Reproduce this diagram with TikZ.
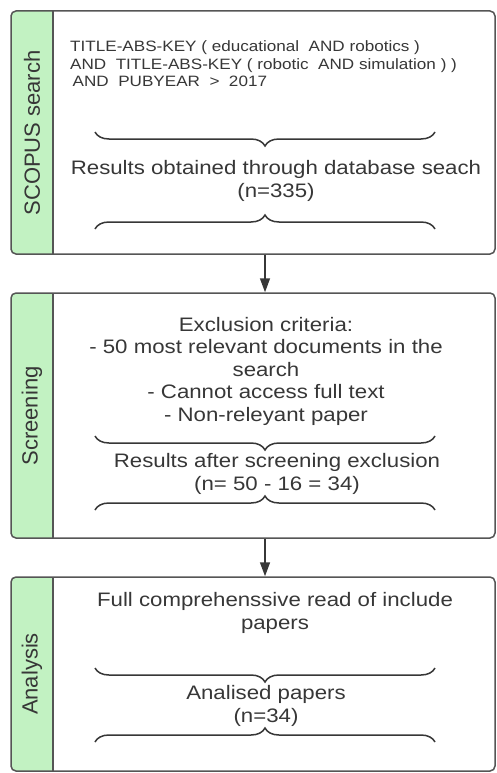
\documentclass[tikz,border=0pt]{standalone}
\usepackage{fontspec}
\setmainfont{Liberation Sans}
\newfontfamily\stretchfont[FakeStretch=1.14]{Liberation Sans}
\usetikzlibrary{arrows.meta,decorations.pathreplacing}
\definecolor{stripgreen}{RGB}{194,242,194}
\definecolor{bordergray}{RGB}{85,85,85}
\definecolor{txtgray}{RGB}{55,55,55}
\tikzset{
  panel/.style={draw=bordergray, line width=1.5pt, rounded corners=5pt, fill=white, inner sep=0pt,
    minimum width=484pt,
    path picture={
      \fill[stripgreen, sharp corners] (path picture bounding box.south west) rectangle ([xshift=42pt]path picture bounding box.north west);
      \draw[bordergray, line width=1.5pt] ([xshift=42pt]path picture bounding box.south west) -- ([xshift=42pt]path picture bounding box.north west);
    }},
  sidelabel/.style={rotate=90, font=\fontsize{22}{26}\selectfont, text=txtgray, inner sep=0pt},
  maintext/.style={align=center, font=\stretchfont\fontsize{19.5}{22.5}\selectfont, text=txtgray, inner sep=0pt},
  querytext/.style={align=left, font=\stretchfont\fontsize{15}{17.5}\selectfont, text=txtgray, inner sep=0pt},
  bracepath/.style={decorate, decoration={brace, amplitude=14pt}, draw=txtgray, line width=1.5pt},
  flow/.style={draw=txtgray, line width=1.5pt, -{Triangle[length=14pt,width=10pt]}},
}
\begin{document}
\begin{tikzpicture}[x=1pt, y=-1pt]
\useasboundingbox (0,0) rectangle (497,773);
% panels
\node[panel, minimum height=243pt] (p1) at (253,132.5) {};
\node[panel, minimum height=245pt] (p2) at (253,415.5) {};
\node[panel, minimum height=194pt] (p3) at (253,674) {};
% side labels
\node[sidelabel] (l1) at (32,133) {SCOPUS search};
\node[sidelabel] (l2) at (32,416) {Screening};
\node[sidelabel] (l3) at (32,674) {Analysis};
% panel 1 (base anchor = baseline of last line)
\node[querytext, anchor=base west] (q) at (70,87) {TITLE-ABS-KEY ( educational~ AND robotics )\\AND~ TITLE-ABS-KEY ( robotic~ AND simulation ) )\\\,AND~ PUBYEAR ~>~ 2017};
\draw[bracepath] (435,132) -- (95,132);
\node[maintext, anchor=base] (r1) at (276,197) {Results obtained through database seach\\(n=335)};
\draw[bracepath] (95,229) -- (435,229);
% panel 2
\node[maintext, anchor=base] (e2) at (266,421) {Exclusion criteria:\\- 50 most relevant documents in the\\search\\- Cannot access full text\\- Non-releyant paper};
\draw[bracepath] (435,436) -- (95,436);
\node[maintext, anchor=base] (r2) at (277,490) {Results after screening exclusion\\(n= 50 - 16 = 34)};
\draw[bracepath] (95,510) -- (435,510);
% panel 3
\node[maintext, anchor=base] (f3) at (275,629) {Full comprehenssive read of include\\papers};
\draw[bracepath] (435,668) -- (95,668);
\node[maintext, anchor=base] (r3) at (266,722) {Analised papers\\(n=34)};
\draw[bracepath] (95,742) -- (435,742);
% connectors
\coordinate (axis) at (265,0);
\draw[flow] (p1.south -| axis) -- (p2.north -| axis);
\draw[flow] (p2.south -| axis) -- (p3.north -| axis);
\end{tikzpicture}
\end{document}
